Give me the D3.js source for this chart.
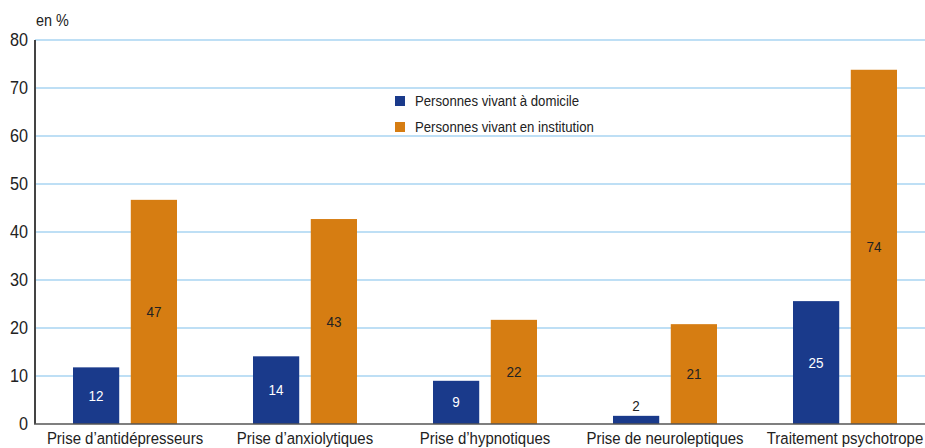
<!DOCTYPE html>
<html><head><meta charset="utf-8">
<script src="https://cdn.jsdelivr.net/npm/d3@7"></script>
<style>body{margin:0;background:#fff}svg{display:block}text{font-family:"Liberation Sans",Arial,sans-serif}</style>
</head><body>
<script>
const categories = ["Prise d\u2019antidépresseurs","Prise d\u2019anxiolytiques","Prise d\u2019hypnotiques","Prise de neuroleptiques","Traitement psychotrope"];
const domicile = [12, 14, 9, 2, 25];
const institution = [47, 43, 22, 21, 74];
const domicileHeights = [11.8, 14.1, 9.0, 1.7, 25.6];
const institutionHeights = [46.7, 42.7, 21.7, 20.8, 73.8];
const yTicks = [0,10,20,30,40,50,60,70,80];
const seriesNames = ["Personnes vivant à domicile","Personnes vivant en institution"];
const colors = ["#1a3a8b","#d67d12"];

const W=925,H=448;
const svg=d3.select("body").append("svg").attr("width",W).attr("height",H);
const y=d3.scaleLinear().domain([0,80]).range([424,40]);
const x=d3.scaleBand().domain(categories).range([35,935]).padding(0);
const inner=d3.scaleBand().domain([0,1]).range([38,142]).paddingInner(0.2).paddingOuter(0);

// grid
svg.append("g").selectAll("line").data(yTicks.filter(d=>d>0)).join("line")
  .attr("x1",35).attr("x2",W).attr("y1",d=>y(d)).attr("y2",d=>y(d))
  .attr("stroke","#a9d5f2").attr("stroke-width",1.5);

const yAxis=d3.axisLeft(y).tickValues(yTicks).tickSize(0).tickPadding(7);
const gy=svg.append("g").attr("transform","translate(35,0)").call(yAxis);
gy.select(".domain").remove();
gy.selectAll("text").attr("font-size",18).attr("fill","#222")
  .attr("transform","translate(-7,0) scale(0.9,1)").attr("x",0);

const series=[domicileHeights,institutionHeights];
const labels=[domicile,institution];
series.forEach((vals,si)=>{
  const g=svg.append("g");
  g.selectAll("rect").data(vals).join("rect")
    .attr("x",(d,i)=>x(categories[i])+inner(si))
    .attr("width",inner.bandwidth())
    .attr("y",d=>y(d)).attr("height",d=>y(0)-y(d))
    .attr("fill",colors[si]);
  g.selectAll("text").data(vals).join("text")
    .attr("transform",(d,i)=>{const h=y(0)-y(d);
      const tx=x(categories[i])+inner(si)+inner.bandwidth()/2;
      const ty=h<20? y(d)-5 : (y(d)+y(0))/2+5;
      return `translate(${tx},${ty}) scale(0.9,1)`;})
    .attr("text-anchor","middle").attr("font-size",15)
    .attr("fill",(d,i)=>{const h=y(0)-y(d); return h<20?"#222":(si===0?"#fff":"#222");})
    .text((d,i)=>labels[si][i]);
});

// axes lines
svg.append("line").attr("x1",35).attr("x2",35).attr("y1",40).attr("y2",424).attr("stroke","#444").attr("stroke-width",2);
svg.append("line").attr("x1",34).attr("x2",W).attr("y1",424).attr("y2",424).attr("stroke","#555").attr("stroke-width",1.5);

const xAxis=d3.axisBottom(x).tickSize(0).tickPadding(8);
const gx=svg.append("g").attr("transform","translate(0,424)").call(xAxis);
gx.select(".domain").remove();
gx.selectAll("text").attr("font-size",17).attr("fill","#222").attr("transform","scale(0.88,1)");

svg.append("text").attr("transform","translate(36,26) scale(0.9,1)").attr("font-size",16).attr("fill","#222").text("en %");

const leg=svg.append("g");
seriesNames.forEach((n,i)=>{
  leg.append("rect").attr("x",395).attr("y",96+i*26).attr("width",10).attr("height",10).attr("fill",colors[i]);
  leg.append("text").attr("transform",`translate(415,${106+i*26}) scale(0.88,1)`).attr("font-size",15).attr("fill","#222").text(n);
});
</script>
</body></html>
